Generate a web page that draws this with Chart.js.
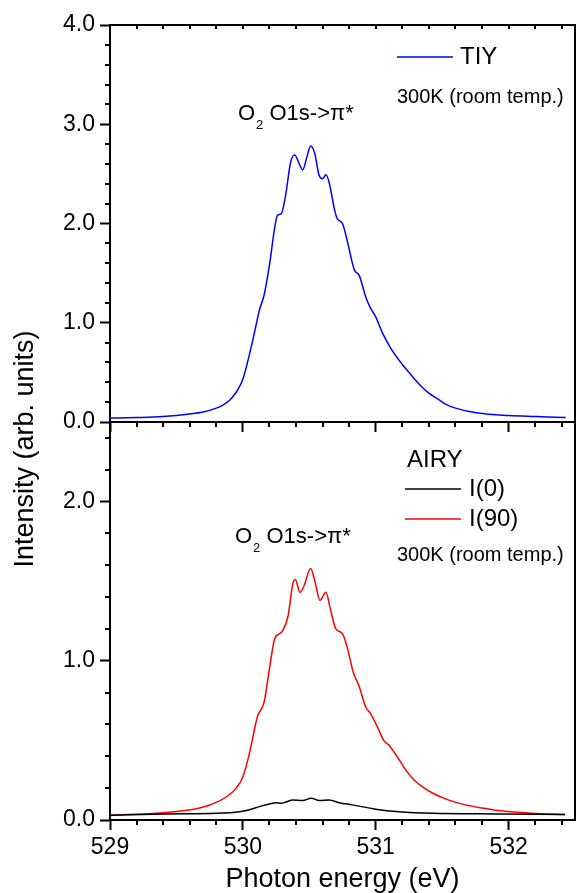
<!DOCTYPE html>
<html><head><meta charset="utf-8">
<script src="https://cdn.jsdelivr.net/npm/chart.js@4.4.1/dist/chart.umd.min.js"></script>
<style>
html,body{margin:0;padding:0;background:#fff;}
#wrap{position:relative;width:576px;height:893px;overflow:hidden;background:#fff;}
canvas{position:absolute;left:0;top:0;}
</style></head><body>
<div id="wrap">
<canvas id="cBot" width="576" height="893"></canvas>
<canvas id="cTop" width="576" height="450"></canvas>
</div>
<script>
// ---------- data ----------
const xTicks = [529, 530, 531, 532];
const topYTicks = [0, 1, 2, 3, 4];
const botYTicks = [0, 1, 2];

const tiyE = [529.0,529.2,529.4,529.6,529.7,529.8,529.85,529.9,529.95,530.0,530.06,530.1,530.125,530.16,530.2,530.24,530.26,530.29,530.32,530.36,530.39,530.425,530.45,530.48,530.51,530.54,530.575,530.6,530.625,530.65,530.69,530.71,530.75,530.79,530.84,530.875,530.925,530.96,531.0,531.05,531.11,531.2,531.25,531.3,531.35,531.4,531.475,531.525,531.6,531.77,532.0,532.2,532.43];
const tiyV = [0.04,0.045,0.055,0.08,0.10,0.14,0.17,0.22,0.30,0.43,0.74,0.98,1.13,1.28,1.58,1.96,2.08,2.10,2.27,2.62,2.69,2.60,2.54,2.66,2.78,2.71,2.48,2.45,2.49,2.41,2.14,2.05,2.00,1.80,1.53,1.48,1.26,1.15,1.06,0.90,0.75,0.58,0.50,0.42,0.35,0.29,0.225,0.18,0.14,0.09,0.065,0.055,0.045];

const i90E = [529.0,529.4,529.675,529.825,529.9,529.95,530.0,530.05,530.11,530.16,530.2,530.24,530.275,530.3,530.34,530.375,530.395,530.43,530.46,530.51,530.545,530.58,530.625,530.66,530.7,530.75,530.79,530.83,530.875,530.925,530.96,531.01,531.06,531.1,531.175,531.23,531.29,531.35,531.43,531.55,531.675,531.8,531.925,532.175,532.425];
const i90V = [0.03,0.046,0.075,0.12,0.16,0.20,0.27,0.42,0.65,0.74,0.95,1.14,1.17,1.19,1.28,1.48,1.51,1.43,1.47,1.58,1.49,1.38,1.43,1.32,1.20,1.17,1.07,0.93,0.84,0.71,0.67,0.59,0.50,0.47,0.38,0.31,0.25,0.21,0.168,0.125,0.095,0.075,0.059,0.042,0.034];

const i0E = [529.0,529.425,529.8,529.975,530.05,530.125,530.2,530.25,530.29,530.33,530.375,530.45,530.515,530.575,530.65,530.725,530.825,531.0,531.175,531.425,531.925,532.425];
const i0V = [0.030,0.038,0.042,0.052,0.065,0.084,0.100,0.109,0.105,0.115,0.126,0.122,0.137,0.122,0.126,0.109,0.095,0.068,0.052,0.042,0.038,0.034];

const seriesLabels = ['TIY', 'I(0)', 'I(90)'];
const seriesColors = ['#0000ff', '#000000', '#ff0000'];

// ---------- helpers ----------
const FONT = "'Liberation Sans', Arial, Helvetica, sans-serif";
Chart.defaults.font.family = FONT;
Chart.defaults.color = '#000';

const pts = (E, V) => E.map((e, i) => ({x: e, y: V[i]}));

const frame = {
  id: 'frame',
  afterDraw(chart) {
    const {ctx, chartArea: a} = chart;
    ctx.save();
    ctx.strokeStyle = '#000'; ctx.lineWidth = 2;
    ctx.beginPath();
    ctx.moveTo(a.left - 1, a.top); ctx.lineTo(a.right, a.top); ctx.lineTo(a.right, a.bottom + 1);
    ctx.stroke();
    ctx.restore();
  }
};

const minorTicks = {
  id: 'minorTicks',
  afterDraw(chart, args, opts) {
    const {ctx, chartArea: a} = chart;
    ctx.save(); ctx.strokeStyle = '#000'; ctx.lineWidth = 2;
    for (const m of opts.list || []) {
      const s = chart.scales[m.scale];
      const n = Math.round((m.to - m.from) / m.step);
      for (let i = 0; i <= n; i++) {
        const v = m.from + i * m.step;
        if (m.skipMajor && Math.abs(v - Math.round(v)) < 1e-6) continue;
        const p = Math.round(s.getPixelForValue(v));
        ctx.beginPath();
        if (m.scale === 'x') {
          const y0 = m.edge === 'top' ? a.top : a.bottom;
          ctx.moveTo(p, y0); ctx.lineTo(p, y0 + m.len);
        } else {
          ctx.moveTo(a.left, p); ctx.lineTo(a.left - m.len, p);
        }
        ctx.stroke();
      }
    }
    ctx.restore();
  }
};

function drawFormula(ctx, x, baseline, size) {
  ctx.textAlign = 'left'; ctx.textBaseline = 'alphabetic'; ctx.fillStyle = '#000';
  ctx.font = size + 'px ' + FONT;
  ctx.fillText('O', x, baseline);
  let cx = x + ctx.measureText('O').width + 1;
  ctx.font = Math.round(size * 0.6) + 'px ' + FONT;
  ctx.fillText('2', cx, baseline + 9);
  cx += ctx.measureText('2').width;
  ctx.font = size + 'px ' + FONT;
  ctx.fillText(' O1s->\u03c0*', cx, baseline);
}

const texts = {
  id: 'texts',
  afterDraw(chart, args, o) {
    const ctx = chart.ctx;
    ctx.save();
    for (const t of o.items || []) {
      if (t.type === 'line') {
        ctx.strokeStyle = t.color; ctx.lineWidth = 1.5;
        ctx.beginPath(); ctx.moveTo(t.x1, t.y); ctx.lineTo(t.x2, t.y); ctx.stroke();
      } else if (t.type === 'text') {
        ctx.fillStyle = '#000'; ctx.font = t.size + 'px ' + FONT;
        ctx.textAlign = t.align || 'left'; ctx.textBaseline = 'middle';
        ctx.fillText(t.text, t.x, t.y);
      } else if (t.type === 'formula') {
        drawFormula(ctx, t.x, t.y, t.size);
      } else if (t.type === 'vtitle') {
        ctx.translate(t.x, t.y); ctx.rotate(-Math.PI / 2);
        ctx.fillStyle = '#000'; ctx.font = t.size + 'px ' + FONT;
        ctx.textAlign = 'center'; ctx.textBaseline = 'alphabetic';
        ctx.fillText(t.text, 0, 0);
        ctx.setTransform(1, 0, 0, 1, 0, 0);
      }
    }
    ctx.restore();
  }
};

function xScale(showLabels, height, withTitle) {
  return {
    type: 'linear', min: 529, max: 532.5, position: 'bottom',
    afterBuildTicks: s => { s.ticks = xTicks.map(v => ({value: v})); },
    afterFit: s => { s.height = height; },
    grid: {drawOnChartArea: false, drawTicks: true, tickLength: 10, tickWidth: 2, tickColor: '#000'},
    border: {display: true, color: '#000', width: 2},
    ticks: {
      color: showLabels ? '#000' : 'rgba(0,0,0,0)', font: {size: 23}, padding: 4,
      maxRotation: 0, autoSkip: false, callback: v => String(v)
    },
    title: withTitle ? {display: true, text: 'Photon energy (eV)', font: {size: 27, lineHeight: 1.0}, padding: {top: 0, bottom: 0}, color: '#000'} : {display: false}
  };
}
function yScale(max, tickArr) {
  return {
    type: 'linear', min: 0, max: max, position: 'left',
    afterBuildTicks: s => { s.ticks = tickArr.map(v => ({value: v})); },
    afterFit: s => { s.width = 110; },
    grid: {drawOnChartArea: false, drawTicks: true, tickLength: 10, tickWidth: 2, tickColor: '#000'},
    border: {display: true, color: '#000', width: 2},
    ticks: {font: {size: 23}, padding: 5, color: '#000', callback: v => Number(v).toFixed(1)}
  };
}
const lineDs = (label, data, color) => ({
  label, data, borderColor: color, backgroundColor: color, borderWidth: 1.5,
  pointRadius: 0, fill: false, cubicInterpolationMode: 'monotone'
});

// ---------- bottom panel (AIRY) ----------
new Chart(document.getElementById('cBot'), {
  type: 'line',
  data: {datasets: [
    lineDs(seriesLabels[1], pts(i0E, i0V), seriesColors[1]),
    lineDs(seriesLabels[2], pts(i90E, i90V), seriesColors[2])
  ]},
  options: {
    responsive: false, animation: false, devicePixelRatio: 1,
    layout: {padding: {top: 422, right: 1, left: 0, bottom: 0}},
    scales: {x: xScale(true, 73, true), y: yScale(2.5, botYTicks)},
    plugins: {
      legend: {display: false}, tooltip: {enabled: false},
      minorTicks: {list: [
        {scale: 'x', from: 529, to: 532.4, step: 0.2, len: 5, edge: 'bottom', skipMajor: true},
        {scale: 'y', from: 0, to: 2.4, step: 0.2, len: 5, skipMajor: true}
      ]},
      texts: {items: [
        {type: 'text', text: 'AIRY', x: 407, y: 460, size: 24},
        {type: 'line', x1: 405, x2: 461, y: 489, color: seriesColors[1]},
        {type: 'text', text: seriesLabels[1], x: 469, y: 489, size: 24},
        {type: 'line', x1: 405, x2: 461, y: 519, color: seriesColors[2]},
        {type: 'text', text: seriesLabels[2], x: 469, y: 519, size: 24},
        {type: 'text', text: '300K (room temp.)', x: 397, y: 555, size: 20},
        {type: 'formula', x: 235, y: 543, size: 22},
        {type: 'vtitle', text: 'Intensity (arb. units)', x: 33, y: 449, size: 27}
      ]}
    }
  },
  plugins: [frame, minorTicks, texts]
});

// ---------- top panel (TIY) ----------
new Chart(document.getElementById('cTop'), {
  type: 'line',
  data: {datasets: [lineDs(seriesLabels[0], pts(tiyE, tiyV), seriesColors[0])]},
  options: {
    responsive: false, animation: false, devicePixelRatio: 1,
    layout: {padding: {top: 25, right: 1, left: 0, bottom: 0}},
    scales: {x: xScale(false, 28, false), y: yScale(4, topYTicks)},
    plugins: {
      legend: {display: false}, tooltip: {enabled: false},
      minorTicks: {list: [
        {scale: 'x', from: 529, to: 532.4, step: 0.2, len: 5, edge: 'bottom', skipMajor: true},
        {scale: 'x', from: 529.2, to: 532.4, step: 0.2, len: 4, edge: 'top', skipMajor: false},
        {scale: 'y', from: 0, to: 3.8, step: 0.2, len: 5, skipMajor: true}
      ]},
      texts: {items: [
        {type: 'line', x1: 397, x2: 453, y: 57, color: seriesColors[0]},
        {type: 'text', text: seriesLabels[0], x: 460, y: 57, size: 24},
        {type: 'text', text: '300K (room temp.)', x: 397, y: 97, size: 20},
        {type: 'formula', x: 238, y: 120, size: 22}
      ]}
    }
  },
  plugins: [frame, minorTicks, texts]
});
</script>
</body></html>
